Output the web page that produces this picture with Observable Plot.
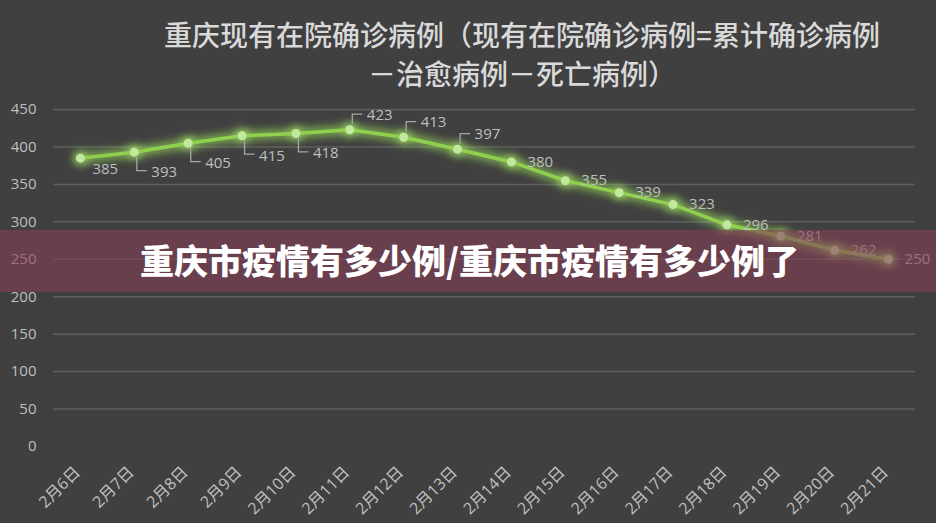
<!DOCTYPE html>
<html><head><meta charset="utf-8">
<script src="https://cdn.jsdelivr.net/npm/d3@7"></script>
<script src="https://cdn.jsdelivr.net/npm/@observablehq/plot@0.6"></script>
<style>
html,body{margin:0;padding:0;background:#404040;}
#wrap{position:relative;width:936px;height:523px;overflow:hidden;background:#404040;}
#title{position:absolute;left:0;top:0;width:836px;padding:15px 0 0 104px;text-align:center;font:500 28px/39px "Noto Sans CJK SC",sans-serif;color:#d9d9d9;white-space:nowrap;}
#chart{position:absolute;left:0;top:90px;}
#chart svg{display:block;}
#banner{position:absolute;left:0;top:230px;width:936px;height:62px;background:rgba(134,62,87,0.6);}
#banner span{position:absolute;left:140px;top:50%;transform:translateY(-52%);font:900 34px/1 "Noto Sans CJK SC",sans-serif;color:#fff;white-space:nowrap;}
</style></head><body>
<div id="wrap"><div id="title"></div><div id="chart"></div><div id="banner"><span></span></div></div>
<script>
const dates = ["2月6日","2月7日","2月8日","2月9日","2月10日","2月11日","2月12日","2月13日","2月14日","2月15日","2月16日","2月17日","2月18日","2月19日","2月20日","2月21日"];
const values = [385,393,405,415,418,423,413,397,380,355,339,323,296,281,262,250];
const yTicks = [0,50,100,150,200,250,300,350,400,450];
const gridTicks = [50,100,150,200,250,300,350,400,450];
const titleLines = ["重庆现有在院确诊病例（现有在院确诊病例=累计确诊病例","－治愈病例－死亡病例）"];
const bannerText = "重庆市疫情有多少例/重庆市疫情有多少例了";

document.getElementById("title").innerHTML = titleLines.join("<br>");
document.querySelector("#banner span").textContent = bannerText;

const rows = dates.map((d, i) => ({date: d, value: values[i], i}));
const place = i => i === 0 ? "first" : i <= 4 ? "below" : i <= 7 ? "above" : "right";
const below = rows.filter(r => place(r.i) === "below");
const above = rows.filter(r => place(r.i) === "above");
const first = rows.filter(r => place(r.i) === "first");
const right = rows.filter(r => place(r.i) === "right");

const labelFont = {fill: "#bfbfbf", fontSize: 15, textAnchor: "start"};

function leaders(index, scales) {
  const g = d3.create("svg:g").attr("fill", "none").attr("stroke", "#a6a6a6").attr("stroke-width", 1.3);
  for (const r of below) {
    const x = scales.x(r.date), y = scales.y(r.value);
    g.append("path").attr("d", `M${x+3},${y+5}V${y+19}H${x+13}`);
  }
  for (const r of above) {
    const x = scales.x(r.date), y = scales.y(r.value);
    g.append("path").attr("d", `M${x+3},${y-5}V${y-15}H${x+13}`);
  }
  return g.node();
}

const plot = Plot.plot({
  width: 936,
  height: 433,
  marginLeft: 53,
  marginRight: 21,
  marginTop: 19,
  marginBottom: 77,
  style: {background: "transparent", fontFamily: "'Open Sans','Noto Sans CJK SC',sans-serif", color: "#bfbfbf", fontSize: "15px"},
  x: {type: "point", domain: dates, padding: 0.5, round: false, label: null},
  y: {domain: [0, 450], label: null},
  marks: [
    Plot.gridY(gridTicks, {stroke: "#5e5e5e", strokeOpacity: 1, strokeWidth: 1.5}),
    Plot.axisY({ticks: yTicks, tickSize: 0, tickPadding: 17, fontSize: 15, fill: "#bfbfbf", label: null}),
    Plot.axisX({tickRotate: -45, tickSize: 0, tickPadding: 23, dx: -3, fontSize: 16, fill: "#bfbfbf", label: null}),
    Plot.line(rows, {x: "date", y: "value", stroke: "#9be35a", strokeWidth: 9, strokeOpacity: 0.7}),
    Plot.dot(rows, {x: "date", y: "value", r: 7, fill: "#a8e86a", fillOpacity: 0.7, stroke: "none"}),
    Plot.line(rows, {x: "date", y: "value", stroke: "#8fd14f", strokeWidth: 3.5}),
    Plot.dot(rows, {x: "date", y: "value", r: 4.5, fill: "#c2e8a0", stroke: "none"}),
    leaders,
    Plot.text(first, {x: "date", y: "value", text: "value", dx: 12, dy: 11, ...labelFont}),
    Plot.text(below, {x: "date", y: "value", text: "value", dx: 17, dy: 20, ...labelFont}),
    Plot.text(above, {x: "date", y: "value", text: "value", dx: 17, dy: -15, ...labelFont}),
    Plot.text(right, {x: "date", y: "value", text: "value", dx: 16, dy: 0, ...labelFont})
  ]
});

const svg = d3.select(plot);
const defs = svg.insert("defs", ":first-child");
const f = defs.append("filter").attr("id", "glow").attr("filterUnits", "userSpaceOnUse")
  .attr("x", -50).attr("y", -50).attr("width", 1036).attr("height", 533);
f.append("feGaussianBlur").attr("stdDeviation", 4);
svg.selectAll("g[aria-label=line]").filter((d, i) => i === 0).attr("filter", "url(#glow)");
svg.selectAll("g[aria-label=dot]").filter((d, i) => i === 0).attr("filter", "url(#glow)");

document.getElementById("chart").appendChild(plot);
</script>
</body></html>
